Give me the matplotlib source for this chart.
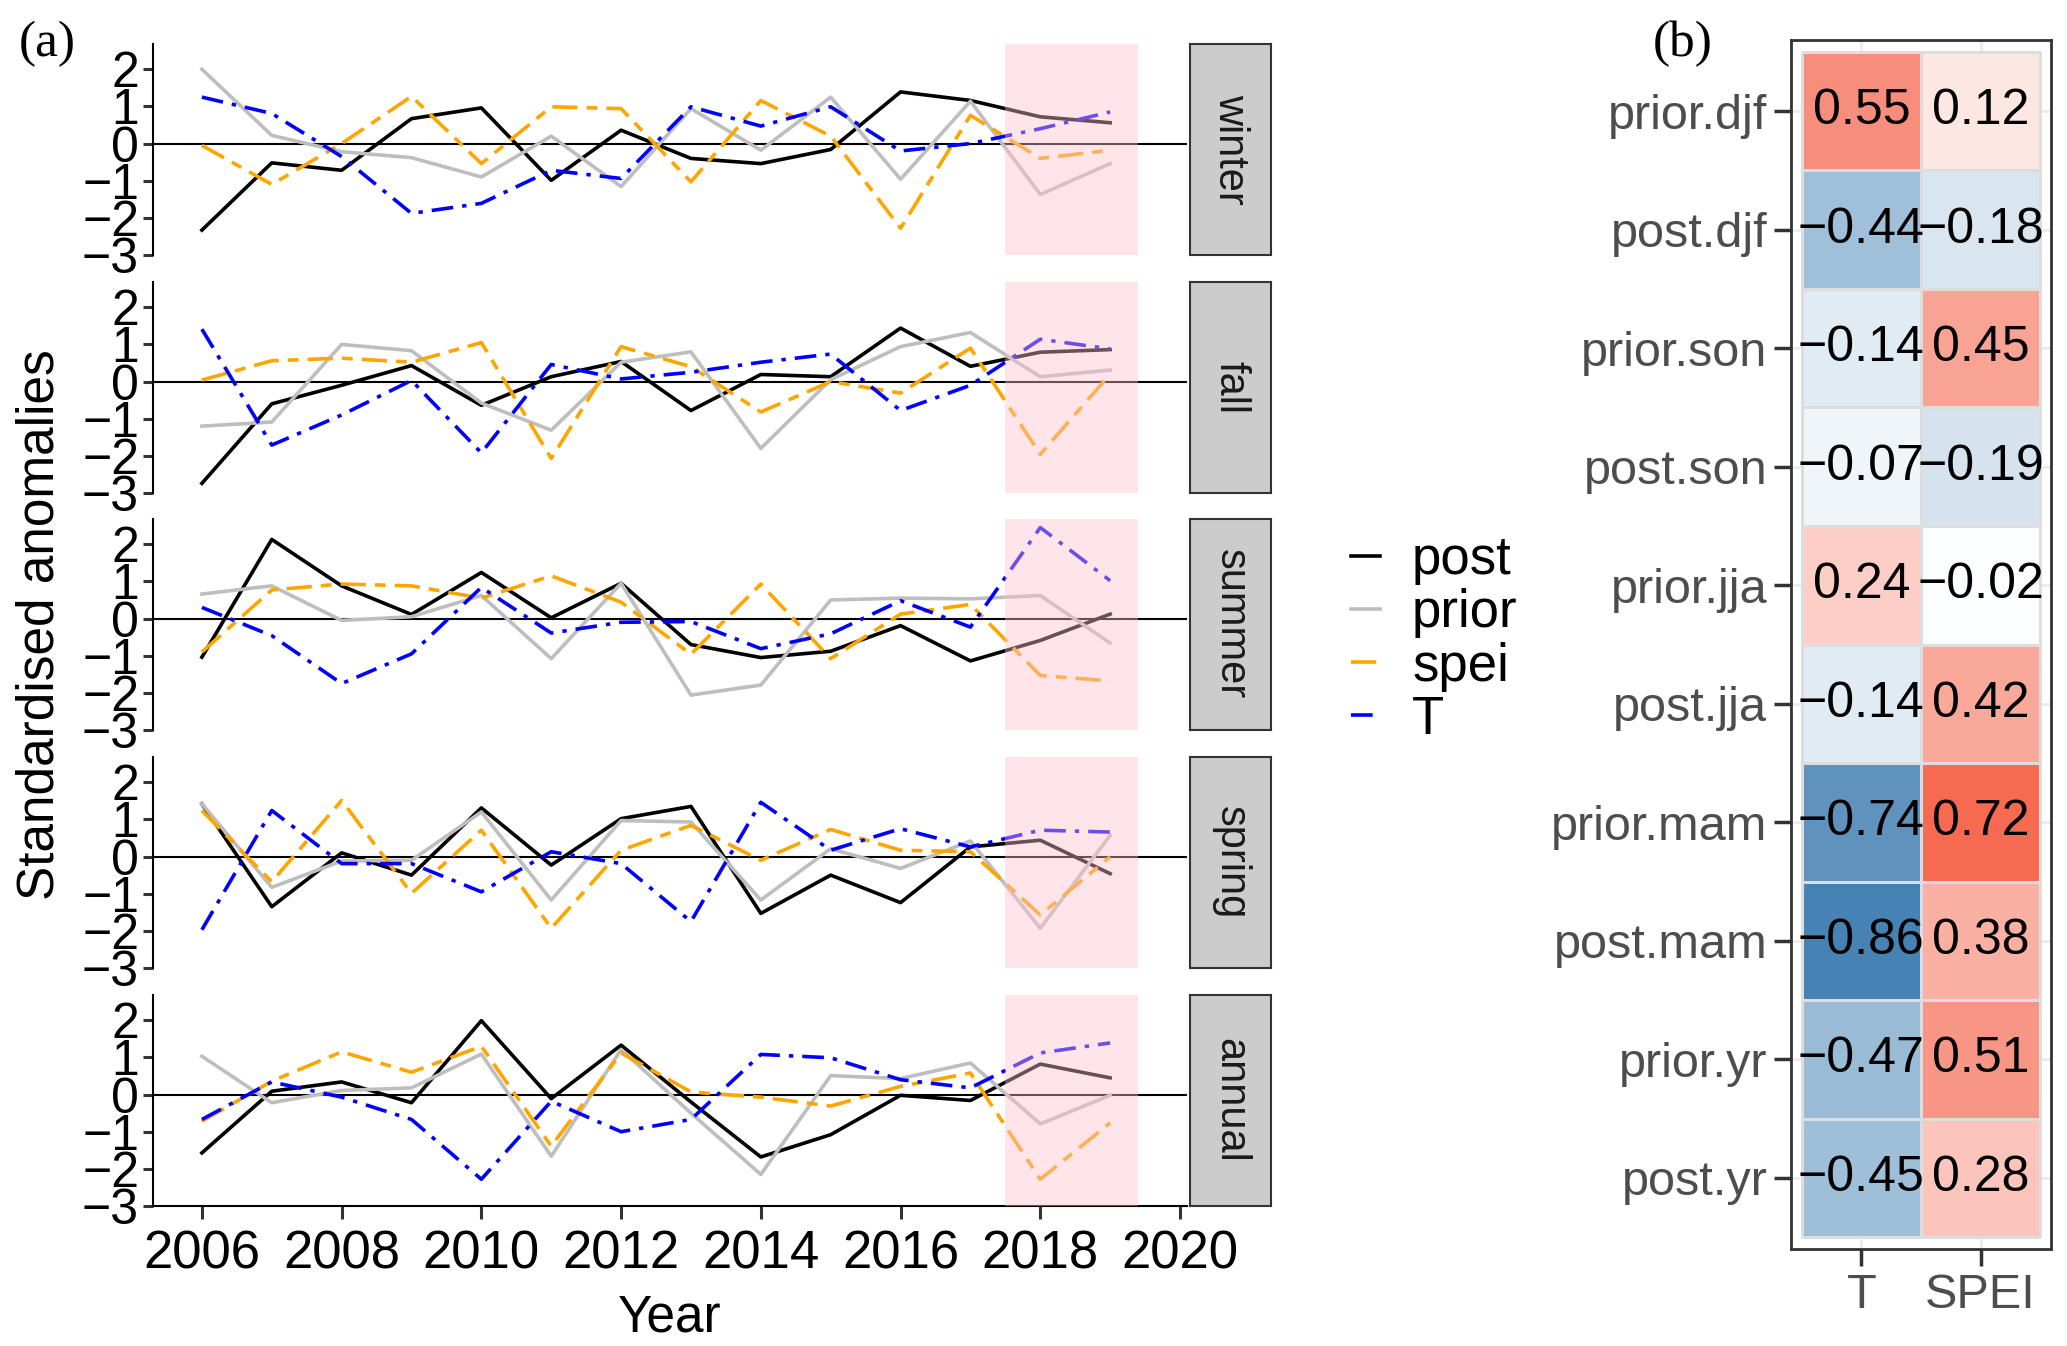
import numpy as np
import matplotlib
matplotlib.use('Agg')
import matplotlib.pyplot as plt
from matplotlib.colors import LinearSegmentedColormap

plt.rcParams['font.family'] = ['Liberation Sans', 'DejaVu Sans']

# ---- data (a): standardised anomalies ----
years = np.arange(2006, 2020)
seasons = ['winter', 'fall', 'summer', 'spring', 'annual']

post_winter = [-2.33, -0.52, -0.72, 0.67, 0.96, -0.99, 0.36, -0.40, -0.54, -0.16, 1.39, 1.16, 0.72, 0.56]
prior_winter = [2.0, 0.22, -0.22, -0.38, -0.9, 0.2, -1.16, 0.94, -0.18, 1.25, -0.96, 1.14, -1.37, -0.54]
spei_winter = [-0.05, -1.1, 0.0, 1.27, -0.54, 0.99, 0.94, -1.03, 1.16, 0.2, -2.28, 0.76, -0.4, -0.18]
t_winter = [1.25, 0.81, -0.35, -1.88, -1.61, -0.72, -0.94, 0.99, 0.47, 0.99, -0.2, 0.0, 0.4, 0.85]

post_fall = [-2.74, -0.6, -0.1, 0.43, -0.64, 0.13, 0.54, -0.78, 0.19, 0.13, 1.44, 0.41, 0.79, 0.86]
prior_fall = [-1.2, -1.09, 1.0, 0.83, -0.58, -1.31, 0.52, 0.8, -1.8, 0.05, 0.94, 1.32, 0.13, 0.31]
spei_fall = [0.04, 0.56, 0.63, 0.52, 1.05, -2.07, 0.94, 0.4, -0.82, 0.0, -0.31, 0.9, -1.96, 0.2]
t_fall = [1.41, -1.71, -0.9, 0.03, -1.92, 0.46, 0.07, 0.25, 0.52, 0.74, -0.78, -0.1, 1.14, 0.88]

post_summer = [-1.04, 2.13, 0.88, 0.11, 1.24, 0.02, 0.95, -0.7, -1.05, -0.88, -0.19, -1.14, -0.59, 0.12]
prior_summer = [0.66, 0.88, -0.05, 0.05, 0.62, -1.08, 0.95, -2.06, -1.79, 0.5, 0.55, 0.53, 0.62, -0.66]
spei_summer = [-0.9, 0.77, 0.93, 0.88, 0.55, 1.15, 0.44, -0.96, 0.93, -1.08, 0.12, 0.38, -1.53, -1.68]
t_summer = [0.3, -0.46, -1.75, -0.95, 0.84, -0.39, -0.1, -0.08, -0.81, -0.41, 0.48, -0.23, 2.45, 1.02]

post_spring = [1.42, -1.35, 0.1, -0.5, 1.31, -0.23, 1.02, 1.35, -1.53, -0.5, -1.24, 0.26, 0.44, -0.46]
prior_spring = [1.42, -0.83, -0.12, -0.1, 1.2, -1.17, 0.97, 0.93, -1.17, 0.21, -0.32, 0.42, -1.93, 0.57]
spei_spring = [1.24, -0.68, 1.51, -0.99, 0.71, -1.93, 0.17, 0.84, -0.1, 0.73, 0.17, 0.13, -1.57, -0.01]
t_spring = [-1.97, 1.24, -0.19, -0.19, -0.95, 0.13, -0.19, -1.75, 1.46, 0.17, 0.75, 0.26, 0.71, 0.66]

post_annual = [-1.57, 0.09, 0.34, -0.22, 1.99, -0.11, 1.33, -0.2, -1.68, -1.08, -0.02, -0.16, 0.82, 0.45]
prior_annual = [1.03, -0.22, 0.11, 0.18, 1.09, -1.66, 1.21, -0.5, -2.15, 0.51, 0.43, 0.85, -0.79, -0.02]
spei_annual = [-0.72, 0.36, 1.15, 0.6, 1.3, -1.39, 1.12, 0.07, -0.07, -0.31, 0.22, 0.58, -2.28, -0.76]
t_annual = [-0.67, 0.34, -0.07, -0.67, -2.28, -0.18, -1.0, -0.67, 1.08, 0.99, 0.4, 0.18, 1.12, 1.39]

panel_data = {
    'winter': (post_winter, prior_winter, spei_winter, t_winter),
    'fall': (post_fall, prior_fall, spei_fall, t_fall),
    'summer': (post_summer, prior_summer, spei_summer, t_summer),
    'spring': (post_spring, prior_spring, spei_spring, t_spring),
    'annual': (post_annual, prior_annual, spei_annual, t_annual),
}

# ---- data (b): correlations ----
corr_rows = ['prior.djf', 'post.djf', 'prior.son', 'post.son', 'prior.jja',
             'post.jja', 'prior.mam', 'post.mam', 'prior.yr', 'post.yr']
corr_cols = ['T', 'SPEI']
corr_t = [0.55, -0.44, -0.14, -0.07, 0.24, -0.14, -0.74, -0.86, -0.47, -0.45]
corr_spei = [0.12, -0.18, 0.45, -0.19, -0.02, 0.42, 0.72, 0.38, 0.51, 0.28]

# ---- figure ----
W, H = 2067, 1346
fig = plt.figure(figsize=(W / 100, H / 100), dpi=100)

def fax(x0, y0, x1, y1):
    # pixel box (top-left origin) -> figure axes
    return fig.add_axes([x0 / W, 1 - y1 / H, (x1 - x0) / W, (y1 - y0) / H])

series_style = [
    ('post', 'black', '-'),
    ('prior', '#BEBEBE', '-'),
    ('spei', '#FFA500', (0, (7, 2.5, 3, 2.5))),
    ('T', '#0000FF', (0, (6, 2.5, 1.2, 2.5))),
]

panel_tops = [44, 282, 519, 757, 995]
ph = 211
left, right = 153, 1187
axes = []
for i, season in enumerate(seasons):
    top = panel_tops[i]
    ax = fax(left, top, right, top + ph)
    axes.append(ax)
    for (name, col, ls), vals in zip(series_style, panel_data[season]):
        ax.plot(years, vals, color=col, linestyle=ls, lw=2.6, label=name, zorder=3)
    ax.axhline(0, color='black', lw=1.5, zorder=2)
    ax.axvspan(2017.5, 2019.4, color='pink', alpha=0.42, lw=0, zorder=6)
    ax.set_xlim(2005.3, 2020.1)
    ax.set_ylim(-3, 2.68)
    ax.set_yticks([-3, -2, -1, 0, 1, 2])
    for s in ['top', 'right']:
        ax.spines[s].set_visible(False)
    ax.spines['left'].set_linewidth(1.5)
    ax.tick_params(axis='y', length=7, width=2.2, color='#333333',
                   labelsize=36, pad=3, labelcolor='black')
    ax.set_xticks(np.arange(2006, 2021, 2))
    if season != 'annual':
        ax.spines['bottom'].set_visible(False)
        ax.tick_params(axis='x', bottom=False, labelbottom=False)
    else:
        ax.spines['bottom'].set_linewidth(1.5)
        ax.tick_params(axis='x', length=9, width=2.2, color='#333333',
                       labelsize=38, pad=8, labelcolor='black')
        ax.set_xlabel('Year', fontsize=37, labelpad=10)

    # facet strip
    sax = fax(1190, top, 1271, top + ph)
    sax.set_facecolor('#CCCCCC')
    sax.set_xticks([])
    sax.set_yticks([])
    for s in sax.spines.values():
        s.set_color('#333333')
        s.set_linewidth(1.5)
    sax.text(0.5, 0.5, season, rotation=-90, ha='center', va='center',
             fontsize=30, color='#1A1A1A', transform=sax.transAxes)

fig.text(40 / W, 1 - 625 / H, 'Standardised anomalies', rotation=90,
         ha='center', va='center', fontsize=37)
fig.text(47 / W, 1 - 44 / H, '(a)', ha='center', va='center', fontsize=37,
         family='Liberation Serif')
fig.text(1683 / W, 1 - 44 / H, '(b)', ha='center', va='center', fontsize=37,
         family='Liberation Serif')

handles, labels = axes[0].get_legend_handles_labels()
fig.legend(handles, labels, loc='center left',
           bbox_to_anchor=(1325 / W, 1 - 640 / H), frameon=False,
           fontsize=38, handlelength=0.55, handletextpad=0.6,
           labelspacing=0.06, borderpad=0)

# ---- heatmap ----
hax = fax(1791, 40, 2051, 1249)
mat = np.column_stack([corr_t, corr_spei])
cmap = LinearSegmentedColormap.from_list('bwr_custom', ['#4682B4', 'white', '#F34E31'])
nr = len(corr_rows)
hax.pcolormesh(np.arange(3) - 0.5, np.arange(nr + 1) - 0.5, mat, cmap=cmap,
               vmin=-0.86, vmax=0.86, edgecolors='#DDDDDD', linewidth=0.8, zorder=2)
for r in range(nr):
    for c in range(2):
        txt = f'{mat[r, c]:.2f}'.replace('-', '\u2212')
        hax.text(c, r, txt, ha='center', va='center', fontsize=36, color='black', zorder=3)
hax.set_xlim(-0.59, 1.59)
hax.set_ylim(nr - 0.5 + 0.1, -0.5 - 0.1)
hax.set_xticks([0, 1])
hax.set_xticklabels(corr_cols)
hax.set_yticks(np.arange(nr))
hax.set_yticklabels(corr_rows)
hax.grid(True, color='#EBEBEB', lw=2, zorder=0)
hax.set_axisbelow(True)
hax.tick_params(length=12, width=2.5, color='#333333', labelsize=35,
                labelcolor='#4D4D4D', pad=5)
for s in hax.spines.values():
    s.set_color('#333333')
    s.set_linewidth(2)

fig.savefig('out.png', dpi=100)
